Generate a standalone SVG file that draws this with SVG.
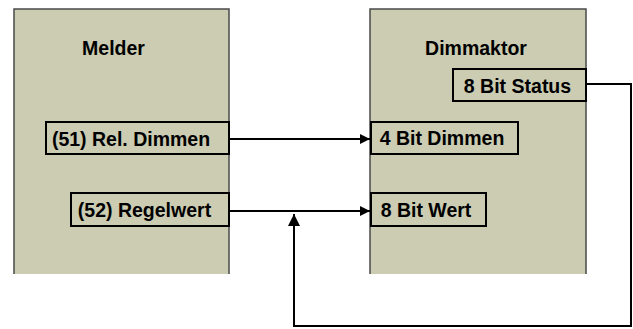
<svg xmlns="http://www.w3.org/2000/svg" width="633" height="329" viewBox="0 0 633 329">
<defs>
<style>
.dev{fill:#cbccb2}
.devb{fill:none;stroke:#4a4a4a;stroke-width:1.5}
.port{fill:#cbccb2;stroke:#000;stroke-width:2}
.t{font-family:"Liberation Sans",Arial,sans-serif;font-weight:bold;font-size:19.5px;fill:#000;text-anchor:middle}
.c{fill:none;stroke:#000;stroke-width:2}
</style>
<marker id="ah" viewBox="0 0 10 10" refX="10" refY="5" markerWidth="10" markerHeight="10" markerUnits="userSpaceOnUse" orient="auto">
<path d="M0,0 L10,5 L0,10 Z" fill="#000"/>
</marker>
<marker id="ahv" viewBox="0 0 12 12" refX="12" refY="6" markerWidth="12" markerHeight="12" markerUnits="userSpaceOnUse" orient="auto">
<path d="M0,0 L12,6 L0,12 Z" fill="#000"/>
</marker>
</defs>
<rect width="633" height="329" fill="#fff"/>
<g id="melder">
<rect class="dev" x="14" y="9" width="215" height="265"/>
<path class="devb" d="M14,274 V9 H229 V274"/>
<text class="t" x="113.5" y="55">Melder</text>
</g>
<g id="dimmaktor">
<rect class="dev" x="370" y="9" width="216" height="265"/>
<path class="devb" d="M370,274 V9 H586 V274"/>
<text class="t" x="476" y="55">Dimmaktor</text>
</g>
<g id="rel-dimmen">
<rect class="port" x="46" y="122" width="183" height="32"/>
<text class="t" x="131" y="146">(51) Rel. Dimmen</text>
</g>
<g id="regelwert">
<rect class="port" x="71" y="193" width="158" height="33"/>
<text class="t" x="144.5" y="217">(52) Regelwert</text>
</g>
<g id="status">
<rect class="port" x="453" y="69" width="133" height="32"/>
<text class="t" x="517.5" y="93">8 Bit Status</text>
</g>
<g id="dimmen4">
<rect class="port" x="371" y="122" width="147" height="32"/>
<text class="t" x="442" y="145">4 Bit Dimmen</text>
</g>
<g id="wert8">
<rect class="port" x="371" y="193" width="115" height="33"/>
<text class="t" x="426" y="217">8 Bit Wert</text>
</g>
<g id="connectors">
<path class="c" d="M229,139 H370" marker-end="url(#ah)"/>
<path class="c" d="M229,211 H370" marker-end="url(#ah)"/>
<path class="c" d="M586,84 H631 V326 H294 V214" marker-end="url(#ahv)"/>
</g>
</svg>
